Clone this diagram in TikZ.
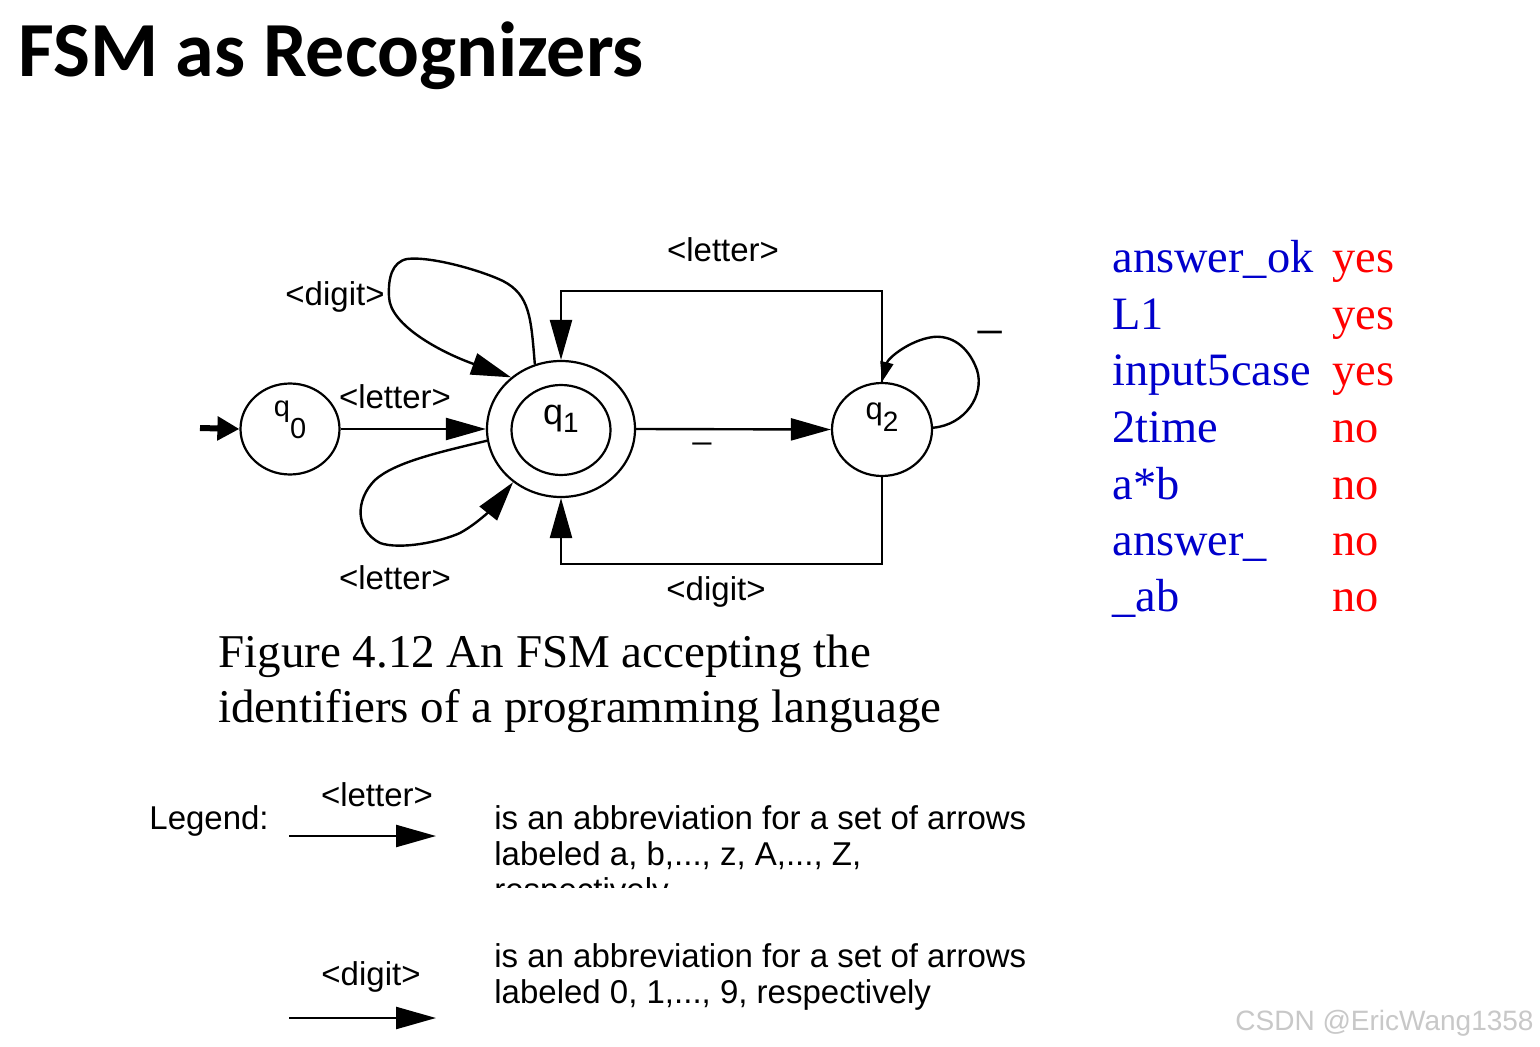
\documentclass[tikz,border=0pt]{standalone}
\usepackage{fontspec}
\setmainfont{Liberation Serif}
\newfontfamily\arialf{Liberation Sans}
\newfontfamily\calf{Carlito}
\usetikzlibrary{shapes.geometric,arrows.meta}
\definecolor{wordblue}{RGB}{0,0,204}
\definecolor{ansred}{RGB}{255,0,0}
\definecolor{wmgray}{RGB}{200,200,200}
\begin{document}
\begin{tikzpicture}[x=0.5pt,y=-0.5pt,
  state/.style={draw,ellipse,line width=1.1pt,inner sep=0pt,font=\arialf\fontsize{14.5}{14.5}\selectfont},
  lbl/.style={font=\arialf\fontsize{16.5}{18}\selectfont,inner sep=0pt},
  legtext/.style={font=\arialf\fontsize{16.5}{18}\selectfont,inner sep=0pt,anchor=base west},
  edge/.style={line width=1.2pt,-{Triangle[length=20pt,width=11pt]}},
  capt/.style={font=\fontsize{23.5}{26}\selectfont,inner sep=0pt,anchor=base west},
  word/.style={font=\fontsize{23.2}{26}\selectfont,inner sep=0pt,anchor=base west,text=wordblue},
  verdict/.style={font=\fontsize{23.2}{26}\selectfont,inner sep=0pt,anchor=base west,text=ansred}
]
\fill[white] (0,0) rectangle (1540,1047);
\useasboundingbox (0,0) rectangle (1540,1047);

% title
\node[font=\calf\bfseries\fontsize{39}{42}\selectfont,inner sep=0pt,anchor=base west] (title) at (18,77) {FSM as Recognizers};

% states
\node[state,minimum width=49.5pt,minimum height=45.5pt,text height=0pt,text depth=12pt] (q0) at (290,429)
  {q\raisebox{-10.5pt}{\fontsize{14.5}{14.5}\selectfont 0}};
\node[state,minimum width=74pt,minimum height=68pt] (q1) at (561,429) {};
\node[state,minimum width=49.5pt,minimum height=45pt,text height=0pt,text depth=5pt,font=\arialf\fontsize{18}{18}\selectfont] (q1in) at (561,430)
  {q\raisebox{-4pt}{\fontsize{14}{14}\selectfont 1}};
\node[state,minimum width=50pt,minimum height=46.5pt,text height=0pt,text depth=9.5pt,font=\arialf\fontsize{15.5}{15.5}\selectfont] (q2) at (882,429.5)
  {q\raisebox{-6pt}{\fontsize{14}{14}\selectfont 2}};

% start arrow
\coordinate (start) at (200,428);
\draw[line width=3pt,-{Triangle[length=11pt,width=11.5pt]}] (start) -- (q0.west);

% q0 -> q1
\draw[edge] (q0.east) -- (q1.west);
\node[lbl] (l01) at (395,397) {<letter>};

% q1 -> q2
\draw[edge] (q1.east) -- (q2.west);
\node[lbl,anchor=base] (l12) at (702,438) {\_};

% q1 digit loop
\draw[edge] (q1.112) .. controls (531,318) and (530,295) .. (503,281)
  .. controls (480,270) and (430,256) .. (407,259)
  .. controls (392,262) and (388,278) .. (389,297)
  .. controls (390,325) and (440,352) .. (q1.134);
\node[lbl] (l11d) at (335,297) {<digit>};

% q1 letter loop
\draw[edge] (q1.189) .. controls (440,452) and (395,462) .. (375,480)
  .. controls (355,500) and (355,530) .. (380,543)
  .. controls (400,550) and (440,542) .. (460,533)
  .. controls (480,522) and (495,505) .. (q1.228);
\node[lbl] (l11l) at (395,578) {<letter>};

% q2 self loop
\draw[line width=1.2pt,-{Triangle[length=10pt,width=6.5pt]}] (q2.2) .. controls (965,425) and (985,395) .. (977,370)
  .. controls (968,345) and (950,335) .. (933,337)
  .. controls (910,340) and (888,358) .. (q2.north);
\node[lbl,anchor=base,font=\arialf\fontsize{21}{22}\selectfont] (l22) at (990,326) {\_};

% q2 -> q1 letter (top)
\coordinate (tl) at (561,291);
\draw[edge] (q2.north) |- (tl) -- (q1.north);
\node[lbl] (l21l) at (723,250) {<letter>};

% q2 -> q1 digit (bottom)
\coordinate (bl) at (561,564);
\draw[edge] (q2.south) |- (bl) -- (q1.south);
\node[lbl] (l21d) at (716,592) {<digit>};

% caption
\node[capt] (cap1) at (218,667) {Figure 4.12 An FSM accepting the};
\node[capt] (cap2) at (218,722) {identifiers of a programming language};

% table
\node[word] (w1) at (1112,273) {answer\_ok};
\node[word] (w2) at (1112,330) {L1};
\node[word] (w3) at (1112,386) {input5case};
\node[word] (w4) at (1112,443) {2time};
\node[word] (w5) at (1112,499) {a*b};
\node[word] (w6) at (1112,555) {answer\_};
\node[word] (w7) at (1112,611) {\_ab};
\node[verdict] (v1) at (1332,273) {yes};
\node[verdict] (v2) at (1332,330) {yes};
\node[verdict] (v3) at (1332,386) {yes};
\node[verdict] (v4) at (1332,443) {no};
\node[verdict] (v5) at (1332,499) {no};
\node[verdict] (v6) at (1332,555) {no};
\node[verdict] (v7) at (1332,611) {no};

% legend
\node[legtext] (leg) at (149,829) {Legend:};
\node[lbl,anchor=base] (legl) at (377,806) {<letter>};
\coordinate (la1) at (289,836);
\coordinate (la2) at (436,836);
\draw[edge] (la1) -- (la2);
\node[legtext] (lt1) at (494,829) {is an abbreviation for a set of arrows};
\node[legtext] (lt2) at (494,865) {labeled a, b,..., z, A,..., Z,};
\begin{scope}
\clip (480,860) rectangle (1040,887);
\node[legtext] (lt3) at (494,901) {respectively};
\end{scope}

\node[lbl,anchor=base] (legd) at (371,985) {<digit>};
\coordinate (lb1) at (289,1018);
\coordinate (lb2) at (436,1018);
\draw[edge] (lb1) -- (lb2);
\node[legtext] (lt4) at (494,967) {is an abbreviation for a set of arrows};
\node[legtext] (lt5) at (494,1003) {labeled 0, 1,..., 9, respectively};

% watermark
\node[font=\arialf\fontsize{14}{14}\selectfont,text=wmgray,inner sep=0pt,anchor=base west] (wm) at (1235,1030) {CSDN @EricWang1358};
\end{tikzpicture}
\end{document}
